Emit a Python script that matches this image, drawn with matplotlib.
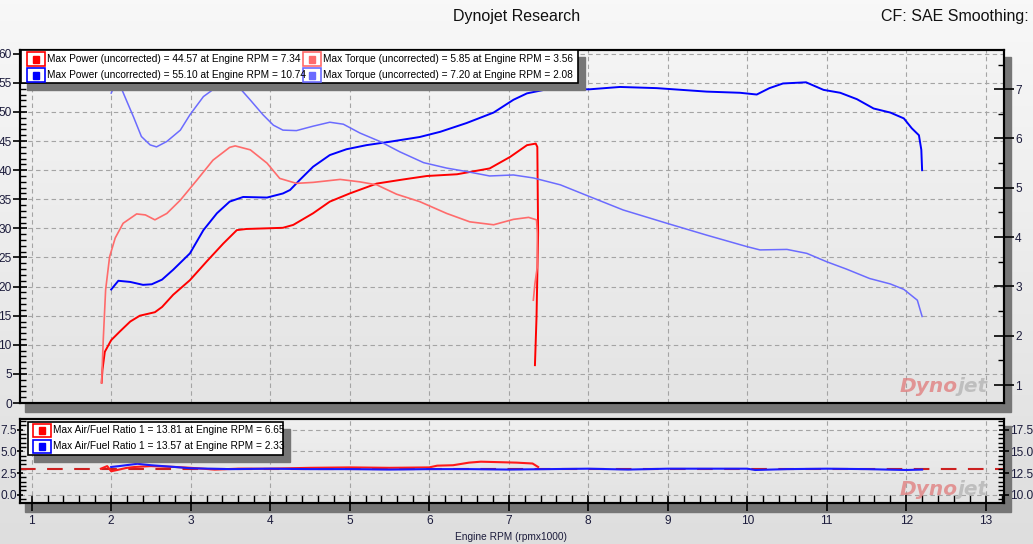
import matplotlib
matplotlib.use("Agg")
import matplotlib.pyplot as plt
import numpy as np
from matplotlib import font_manager
from matplotlib.colors import LinearSegmentedColormap
from matplotlib.patches import Rectangle
from matplotlib.ticker import FuncFormatter, MultipleLocator

W, H = 1033, 544

# run 1 (red) - power in hp, torque on right axis
red_power_rpm = [1.88, 1.89, 1.92, 2.0, 2.11, 2.24, 2.36, 2.55, 2.64, 2.78, 2.99, 3.20, 3.41, 3.58, 3.70,
                 4.16, 4.29, 4.54, 4.75, 5.00, 5.34, 5.67, 5.97, 6.35, 6.76, 7.02, 7.23, 7.34, 7.36, 7.37,
                 7.35, 7.33]
red_power = [3.5, 5.7, 8.8, 10.8, 12.3, 14.0, 15.0, 15.6, 16.5, 18.6, 21.1, 24.3, 27.4, 29.7, 29.9,
             30.1, 30.6, 32.6, 34.6, 36.0, 37.7, 38.4, 39.0, 39.3, 40.3, 42.3, 44.3, 44.57, 44.0, 29.2,
             14.8, 6.5]
red_torque_rpm = [1.88, 1.90, 1.93, 1.98, 2.05, 2.15, 2.32, 2.43, 2.55, 2.70, 2.87, 3.08, 3.28, 3.49, 3.56,
                  3.75, 3.96, 4.12, 4.33, 4.54, 4.88, 5.13, 5.34, 5.59, 5.88, 6.22, 6.51, 6.81, 7.06, 7.25,
                  7.35, 7.36, 7.36, 7.33, 7.31]
red_torque = [1.05, 1.91, 2.93, 3.60, 3.98, 4.28, 4.47, 4.45, 4.35, 4.48, 4.75, 5.16, 5.56, 5.82, 5.85,
              5.77, 5.50, 5.19, 5.09, 5.11, 5.17, 5.12, 5.06, 4.87, 4.72, 4.48, 4.31, 4.25, 4.36, 4.40,
              4.35, 4.08, 3.40, 3.06, 2.72]

# run 2 (blue)
blue_power_rpm = [2.0, 2.09, 2.24, 2.40, 2.51, 2.64, 2.78, 2.99, 3.16, 3.33, 3.49, 3.66, 3.96, 4.16, 4.25,
                  4.37, 4.54, 4.75, 4.96, 5.21, 5.51, 5.88, 6.14, 6.47, 6.81, 7.06, 7.23, 7.48, 8.02, 8.40,
                  8.86, 9.49, 9.91, 10.12, 10.28, 10.45, 10.74, 10.96, 11.17, 11.38, 11.59, 11.80, 11.97,
                  12.07, 12.16, 12.19, 12.20]
blue_power = [19.5, 21.0, 20.8, 20.3, 20.4, 21.2, 22.9, 25.7, 29.7, 32.6, 34.6, 35.4, 35.3, 36.0, 36.6,
              38.3, 40.6, 42.6, 43.6, 44.3, 44.9, 45.7, 46.6, 48.1, 49.9, 52.1, 53.2, 53.9, 53.9, 54.3,
              54.1, 53.5, 53.3, 53.0, 54.1, 54.9, 55.1, 53.8, 53.3, 52.2, 50.6, 49.9, 48.9,
              47.2, 46.0, 43.5, 40.0]
blue_torque_rpm = [2.0, 2.08, 2.19, 2.28, 2.38, 2.49, 2.57, 2.70, 2.87, 2.99, 3.16, 3.33, 3.45, 3.58, 3.75,
                   3.91, 4.04, 4.16, 4.33, 4.54, 4.75, 4.92, 5.13, 5.38, 5.63, 5.93, 6.22, 6.47, 6.76, 7.06,
                   7.31, 7.65, 8.02, 8.44, 8.99, 9.49, 9.99, 10.16, 10.50, 10.75, 11.00, 11.25, 11.54, 11.80,
                   11.97, 12.14, 12.20]
blue_torque = [6.92, 7.20, 6.78, 6.44, 6.04, 5.87, 5.83, 5.94, 6.17, 6.48, 6.85, 7.05, 7.12, 7.09, 6.78,
               6.48, 6.27, 6.17, 6.16, 6.25, 6.33, 6.29, 6.11, 5.94, 5.73, 5.51, 5.40, 5.33, 5.24, 5.26,
               5.20, 5.06, 4.82, 4.55, 4.28, 4.04, 3.81, 3.74, 3.75, 3.67, 3.50, 3.35, 3.16, 3.05,
               2.94, 2.72, 2.39]

# air/fuel ratio
red_afr_rpm = [1.87, 1.95, 2.0, 2.05, 2.2, 2.3, 2.5, 2.8, 3.0, 3.3, 3.6, 4.0, 4.5, 5.0, 5.5, 6.0, 6.1,
               6.3, 6.5, 6.65, 6.9, 7.1, 7.3, 7.37]
red_afr = [13.0, 13.3, 12.7, 12.8, 13.1, 13.2, 13.3, 13.2, 13.1, 12.9, 13.0, 13.0, 13.1, 13.15, 13.1,
           13.15, 13.35, 13.4, 13.7, 13.81, 13.75, 13.7, 13.6, 13.2]
blue_afr_rpm = [2.0, 2.1, 2.33, 2.5, 2.8, 3.0, 3.5, 4.0, 4.5, 5.0, 5.5, 6.0, 6.5, 7.0, 7.5, 8.0, 8.5,
                9.0, 9.5, 10.0, 10.1, 10.5, 11.0, 11.5, 12.0, 12.2]
blue_afr = [13.2, 13.3, 13.57, 13.4, 13.2, 13.05, 12.95, 13.0, 12.95, 12.95, 12.9, 12.95, 12.95, 12.9,
            12.95, 13.0, 12.9, 13.0, 13.0, 13.0, 12.85, 12.95, 13.0, 12.95, 12.85, 12.9]
afr_target = 13.0

legend_main = [
    ("Max Power (uncorrected) = 44.57 at Engine RPM = 7.34", "#ff0000"),
    ("Max Power (uncorrected) = 55.10 at Engine RPM = 10.74", "#0000ff"),
    ("Max Torque (uncorrected) = 5.85 at Engine RPM = 3.56", "#ff6b6b"),
    ("Max Torque (uncorrected) = 7.20 at Engine RPM = 2.08", "#6b6bff"),
]
legend_afr = [
    ("Max Air/Fuel Ratio 1 = 13.81 at Engine RPM = 6.65", "#ff0000"),
    ("Max Air/Fuel Ratio 1 = 13.57 at Engine RPM = 2.33", "#0000ff"),
]

names = {f.name for f in font_manager.fontManager.ttflist}
if "Liberation Sans Narrow" in names:
    FONT, small, ticks, big = "Liberation Sans Narrow", 8.6, 9.5, 13
else:
    FONT, small, ticks, big = "Liberation Sans", 7.3, 8.6, 11.5
plt.rcParams["font.family"] = [FONT, "DejaVu Sans"]
tick_col = "#1c1c3c"


def fig_rect(x0, y0, x1, y1, **kw):
    """Rectangle given in pixel coords (y down)."""
    return Rectangle((x0 / W, 1 - y1 / H), (x1 - x0) / W, (y1 - y0) / H, transform=fig.transFigure, **kw)


def gradient(ax, c0, c1):
    grad = np.linspace(1, 0, 128).reshape(-1, 1)
    cmap = LinearSegmentedColormap.from_list("bg", [c1, c0])
    ax.imshow(grad, cmap=cmap, aspect="auto", extent=[0, 1, 0, 1], transform=ax.transAxes, zorder=0)


def watermark(ax, y):
    ax.text(0.953, y, "Dyno", transform=ax.transAxes, ha="right", va="bottom", fontsize=14.5,
            fontweight="bold", style="italic", color="#e07a7a", alpha=0.75, family="DejaVu Sans", zorder=1)
    ax.text(0.953, y, "jet", transform=ax.transAxes, ha="left", va="bottom", fontsize=14.5,
            fontweight="bold", style="italic", color="#b8b8b8", alpha=0.85, family="DejaVu Sans", zorder=1)


fig = plt.figure(figsize=(W / 100, H / 100), dpi=100)

bg = fig.add_axes([0, 0, 1, 1], zorder=-10)
gradient(bg, "#f8f8f8", "#dedede")
bg.axis("off")

# plot shadows
fig.add_artist(fig_rect(25, 57, 1011, 412, color="#767676", zorder=-5))
fig.add_artist(fig_rect(25, 426, 1011, 512, color="#767676", zorder=-5))

grid_kw = dict(color="#a4a4a4", linestyle=(0, (4, 3)), linewidth=0.8)

# main plot
ax = fig.add_axes([20 / W, 1 - 403 / H, 984 / W, 353 / H])
gradient(ax, "#f4f4f4", "#e4e4e4")
ax.set_axisbelow(True)
ax.plot(red_power_rpm, red_power, color="#ff0000", lw=1.4, zorder=3)
ax.plot(blue_power_rpm, blue_power, color="#0000ff", lw=1.4, zorder=3)
ax.set_xlim(0.853, 13.23)
ax.set_ylim(0, 60.65)
ax.xaxis.set_major_locator(MultipleLocator(1))
ax.yaxis.set_major_locator(MultipleLocator(5))
ax.yaxis.set_minor_locator(MultipleLocator(1))
ax.grid(True, which="major", **grid_kw)
ax.tick_params(axis="x", which="both", bottom=False, labelbottom=False)
ax.tick_params(axis="y", which="major", direction="inout", length=10, width=1.2, pad=1,
               labelsize=ticks, labelcolor=tick_col)
ax.tick_params(axis="y", which="minor", direction="in", length=4, width=1)
watermark(ax, 0.02)

ax2 = ax.twinx()
ax2.plot(red_torque_rpm, red_torque, color="#ff6b6b", lw=1.2, zorder=3)
ax2.plot(blue_torque_rpm, blue_torque, color="#6b6bff", lw=1.1, zorder=3)
ax2.set_ylim(0.635, 7.795)
ax2.yaxis.set_major_locator(MultipleLocator(1))
ax2.yaxis.set_minor_locator(MultipleLocator(0.5))
ax2.tick_params(axis="y", which="major", direction="inout", length=14, width=1.2, pad=1,
                labelsize=ticks, labelcolor=tick_col)
ax2.tick_params(axis="y", which="minor", direction="in", length=4, width=1)

for a in (ax, ax2):
    for s in a.spines.values():
        s.set_linewidth(1.5)

# air/fuel plot
axa = fig.add_axes([20 / W, 1 - 503 / H, 984 / W, 84 / H])
gradient(axa, "#f0f0f0", "#e2e2e2")
axa.set_axisbelow(True)
axa.axhline(afr_target, color="#cc2020", lw=1.5, linestyle=(0, (7.5, 5.5)), zorder=2)
axa.plot(red_afr_rpm, red_afr, color="#ff1a1a", lw=1.5, zorder=3)
axa.plot(blue_afr_rpm, blue_afr, color="#1a1aff", lw=1.5, zorder=3)
axa.set_xlim(0.853, 13.23)
axa.set_ylim(9.03, 18.75)
axa.xaxis.set_major_locator(MultipleLocator(1))
axa.xaxis.set_minor_locator(MultipleLocator(0.2))
axa.yaxis.set_major_locator(MultipleLocator(2.5))
axa.yaxis.set_minor_locator(MultipleLocator(0.5))
axa.yaxis.set_major_formatter(FuncFormatter(lambda v, p: f"{v - 10:.1f}"))
axa.grid(True, which="major", **grid_kw)
axa.tick_params(axis="x", which="major", direction="inout", length=12, width=1.2, pad=3,
                labelsize=ticks, labelcolor=tick_col)
axa.tick_params(axis="x", which="minor", direction="in", length=6, width=1)
axa.tick_params(axis="y", which="major", direction="inout", length=4, width=1.2, pad=0.5,
                labelsize=ticks, labelcolor=tick_col)
axa.tick_params(axis="y", which="minor", direction="in", length=4, width=1)
watermark(axa, 0.05)

axa2 = axa.twinx()
axa2.set_ylim(9.03, 18.75)
axa2.yaxis.set_major_locator(MultipleLocator(2.5))
axa2.yaxis.set_minor_locator(MultipleLocator(0.5))
axa2.yaxis.set_major_formatter(FuncFormatter(lambda v, p: f"{v:.1f}"))
axa2.tick_params(axis="y", which="major", direction="inout", length=7, width=1.2, pad=0.5,
                 labelsize=ticks, labelcolor=tick_col)
axa2.tick_params(axis="y", which="minor", direction="in", length=4, width=1)
for a in (axa, axa2):
    for s in a.spines.values():
        s.set_linewidth(1.5)


def legend_box(x0, y0, x1, y1):
    fig.add_artist(fig_rect(x0 + 6, y0 + 7, x1 + 7, y1 + 7, color="#767676", zorder=5))
    fig.add_artist(fig_rect(x0, y0, x1, y1, facecolor="white", edgecolor="black", lw=1.2, zorder=6))


def legend_item(x, yc, label, color):
    fig.add_artist(fig_rect(x, yc - 6.5, x + 18, yc + 6.5, facecolor="white", edgecolor=color, lw=1.2, zorder=7))
    fig.add_artist(fig_rect(x + 6, yc - 3.5, x + 12, yc + 3.5, color=color, zorder=7))
    fig.text((x + 20) / W, 1 - yc / H, label, ha="left", va="center", fontsize=small, color="black", zorder=8)


legend_box(20.5, 50, 578, 83)
rows = [59, 75]
for i, (label, color) in enumerate(legend_main):
    col_x = 27 if i < 2 else 303
    legend_item(col_x, rows[i % 2], label, color)

legend_box(28, 422, 283, 455)
for i, (label, color) in enumerate(legend_afr):
    legend_item(33, [430, 446][i], label, color)

fig.text(517 / W, 1 - 17 / H, "Dynojet Research", ha="center", va="center", fontsize=big, color="#111111")
fig.text(1029 / W, 1 - 17 / H, "CF: SAE Smoothing:", ha="right", va="center", fontsize=big, color="#111111")
fig.text(511 / W, 1 - 537 / H, "Engine RPM (rpmx1000)", ha="center", va="center", fontsize=small, color=tick_col)

fig.savefig("out.png", dpi=100)
